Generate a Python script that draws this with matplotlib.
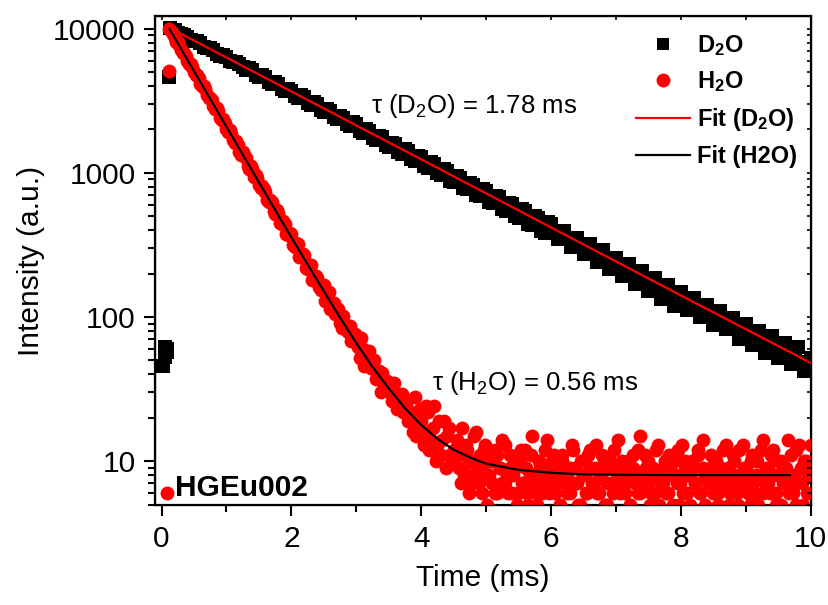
import numpy as np
import matplotlib
matplotlib.use('Agg')
import matplotlib.pyplot as plt
from matplotlib.ticker import MultipleLocator, LogLocator, NullFormatter
from matplotlib.lines import Line2D

plt.rcParams['font.family'] = ['Liberation Sans', 'DejaVu Sans']
plt.rcParams['mathtext.fontset'] = 'custom'
plt.rcParams['mathtext.rm'] = 'Liberation Sans'
plt.rcParams['mathtext.bf'] = 'Liberation Sans:bold'
plt.rcParams['mathtext.default'] = 'regular'

# D2O decay (black squares)
d2o_early_t = [0.03, 0.05, 0.06, 0.08, 0.09, 0.11, 0.13]
d2o_early_y = [46, 53, 62, 60, 57, 4650, 10100]
# sampled every 0.1 ms from 0.2 ms
d2o_y = [9800, 9150, 8820, 8150, 7900, 7300, 7100, 6500, 6380, 5850,
         5720, 5200, 5140, 4640, 4620, 4160, 4140, 3720, 3720, 3320,
         3340, 2960, 3000, 2650, 2700, 2370, 2420, 2120, 2180, 1890,
         1960, 1690, 1760, 1510, 1580, 1350, 1420, 1210, 1280, 1080,
         1150, 960, 1030, 860, 925, 770, 830, 690, 745, 615,
         675, 545, 605, 490, 545, 435, 490, 385, 440, 345,
         395, 305, 355, 272, 320, 240, 290, 215, 258, 192,
         232, 170, 208, 152, 186, 134, 168, 120, 150, 112,
         135, 100, 122, 88, 110, 82, 99, 70, 90, 64,
         80, 56, 74, 52, 66, 47, 62, 42, 52]
# sampled every 0.1 ms from 0.25 ms
d2o_y2 = [9300, 9100, 8300, 8200, 7450, 7350, 6700, 6600, 5950, 5900,
          5380, 5300, 4780, 4760, 4290, 4280, 3840, 3830, 3420, 3450,
          3060, 3090, 2740, 2780, 2440, 2490, 2190, 2240, 1950, 2010,
          1740, 1810, 1550, 1620, 1390, 1460, 1240, 1310, 1110, 1180,
          990, 1060, 880, 950, 790, 850, 705, 770, 630, 690,
          560, 620, 500, 560, 445, 505, 398, 455, 395, 360,
          352, 340, 305, 300, 285, 258, 255, 236, 230, 205,
          206, 195, 172, 178, 160, 150, 150, 132, 133, 120,
          114, 116, 100, 101, 95, 84, 86, 80, 73, 74,
          64, 66, 58, 59, 52, 53, 47, 49]

# H2O decay (red circles)
h2o_early_t = [0.09, 0.11, 0.12]
h2o_early_y = [6, 5100, 10000]
# sampled every 0.05 ms from 0.15 ms
h2o_decay_y = [9600, 8600, 8050, 7150, 6750, 5950, 5650, 4980, 4750, 4150,
               3980, 3480, 3330, 2900, 2800, 2420, 2350, 2010, 1980, 1680,
               1660, 1400, 1390, 1260, 1070, 1060, 960, 820, 810, 740,
               625, 630, 520, 530, 440, 445, 370, 375, 305, 320,
               260, 270, 215, 228, 180, 187, 153, 166, 134, 114,
               126, 108, 91, 102, 81, 87, 68, 67, 52, 60,
               49, 58, 44, 37, 42, 41, 32, 33, 26, 30,
               24, 29, 23, 19, 22, 28, 17, 19, 13, 22,
               14, 24, 13, 11, 19, 15, 11, 12]
# sampled every 0.05 ms from 0.175 ms
h2o_decay_y2 = [9200, 8100, 7700, 6800, 6450, 5700, 5400, 4750, 4520, 3980,
                3800, 3320, 3180, 2770, 2670, 2310, 2230, 1930, 1870, 1610,
                1570, 1340, 1320, 1120, 1110, 935, 925, 780, 775, 650,
                650, 540, 548, 452, 460, 378, 384, 315, 325, 262,
                272, 218, 228, 182, 193, 162, 166, 130, 149, 122,
                105, 113, 84, 90, 79, 68, 76, 62, 71, 46,
                53, 44, 50, 40, 30, 32, 36, 30, 35, 23,
                27, 22, 26, 21, 16, 15, 23, 16, 24, 12,
                17, 10, 19, 14, 9, 17, 10]
# flat tail after 4.5 ms, two interleaved sweeps
h2o_base_y = [14, 9, 17, 8, 12, 10, 7, 15, 9, 11, 6, 13, 8, 10, 7, 12, 6, 9, 14, 7,
              8, 11, 6, 9, 5, 10, 7, 12, 6, 8, 15, 7, 5, 9, 6, 12, 8, 7, 10, 6,
              9, 5, 11, 7, 8, 6, 13, 9, 7, 5, 10, 8, 6, 12, 7, 9, 6, 8, 11, 5,
              7, 10, 6, 9, 14, 7, 8, 6, 10, 5, 9, 7, 12, 6, 8, 11, 7, 5, 9, 6,
              13, 8, 7, 10, 6, 9, 5, 8, 12, 7, 6, 10, 8, 5, 9, 7, 11, 6, 14, 8,
              7, 9, 6, 10, 5, 8, 12, 7, 9, 6, 11, 8, 5, 7, 13, 9, 6, 10, 7, 8,
              5, 12, 6, 9, 7, 11, 8, 6, 10, 5, 9, 7, 14, 8, 6, 12, 7, 9, 5, 10,
              8, 13]
h2o_base_y2 = [11, 7, 9, 13, 6, 10, 8, 16, 7, 9, 12, 5, 8, 10, 6, 11, 9, 7, 13, 6,
               9, 8, 10, 6, 12, 7, 9, 5, 11, 8, 6, 10, 7, 9, 14, 6, 8, 11, 7, 5,
               10, 8, 6, 9, 12, 7, 5, 10, 8, 6, 11, 9, 7, 13, 6, 8, 10, 5, 9, 7,
               12, 8, 6, 10, 7, 9, 5, 11, 8, 6, 15, 7, 9, 10, 6, 8, 12, 5, 7, 9,
               6, 11, 8, 10, 7, 5, 13, 9, 6, 8, 10, 7, 12, 6, 9, 5, 8, 11, 7, 10,
               6, 9, 8, 13, 5, 7, 10, 6, 12, 8, 9, 7, 5, 11, 6, 10, 8, 14, 7, 9,
               6, 12, 5, 8, 10, 7, 9, 6, 11, 8, 5, 13, 7, 10, 6, 9]

# fit curves
fit_d2o_t = [0.15, 2.0, 4.0, 6.0, 8.0, 10.0]
fit_d2o_y = [10000, 3670, 1240, 418, 141, 48]
fit_h2o_t = [0.12, 0.5, 1.0, 1.5, 2.0, 2.5, 2.75, 3.0, 3.25, 3.5, 3.75, 4.0,
             4.25, 4.5, 4.75, 5.0, 5.5, 6.0, 6.5, 7.0, 8.0, 9.68]
fit_h2o_y = [10000, 5080, 2090, 860, 356, 151, 99, 66, 45, 32, 23.3, 17.8,
             14.3, 12.0, 10.6, 9.6, 8.7, 8.3, 8.1, 8.05, 8.0, 8.0]

xticks = [0, 2, 4, 6, 8, 10]
yticks = [10, 100, 1000, 10000]
ytick_labels = ['10', '100', '1000', '10000']

d2o_t = np.concatenate([d2o_early_t,
                        0.2 + 0.1 * np.arange(len(d2o_y)),
                        0.25 + 0.1 * np.arange(len(d2o_y2))])
d2o_all = np.concatenate([d2o_early_y, d2o_y, d2o_y2])
h2o_t = np.concatenate([h2o_early_t,
                        0.15 + 0.05 * np.arange(len(h2o_decay_y)),
                        0.175 + 0.05 * np.arange(len(h2o_decay_y2)),
                        np.linspace(4.55, 10.0, len(h2o_base_y)),
                        np.linspace(4.57, 9.98, len(h2o_base_y2))])
h2o_all = np.concatenate([h2o_early_y, h2o_decay_y, h2o_decay_y2, h2o_base_y, h2o_base_y2])

fig = plt.figure(figsize=(8.29, 6.05), dpi=100)
ax = fig.add_axes([0.187, 0.165, 0.791, 0.809])

ax.plot(d2o_t, d2o_all, 's', color='black', markersize=9.5, markeredgewidth=0, zorder=2)
ax.plot(h2o_t, h2o_all, 'o', color='red', markersize=10, markeredgewidth=0, zorder=3)
ax.plot(fit_d2o_t, fit_d2o_y, '-', color='red', linewidth=1.6, zorder=4)
ax.plot(fit_h2o_t, fit_h2o_y, '-', color='black', linewidth=1.6, zorder=4)

ax.set_yscale('log')
ax.set_xlim(-0.1, 10)
ax.set_ylim(4.95, 12300)
ax.set_xticks(xticks)
ax.xaxis.set_minor_locator(MultipleLocator(1))
ax.set_yticks(yticks, ytick_labels)
ax.yaxis.set_minor_locator(LogLocator(base=10, subs=np.arange(2, 10)))
ax.yaxis.set_minor_formatter(NullFormatter())
ax.tick_params(which='both', direction='out', width=1.5, labelsize=21.5, pad=6)
ax.tick_params(which='major', length=8)
ax.tick_params(which='minor', length=5)
for s in ax.spines.values():
    s.set_linewidth(1.6)

# mirrored inward ticks on top and right
axt = ax.twiny()
axt.set_xlim(ax.get_xlim())
axt.set_xticks(xticks)
axt.xaxis.set_minor_locator(MultipleLocator(1))
axt.tick_params(which='both', direction='in', length=3, width=1.2, labeltop=False)
axr = ax.twinx()
axr.set_yscale('log')
axr.set_ylim(ax.get_ylim())
axr.set_yticks(yticks)
axr.yaxis.set_minor_locator(LogLocator(base=10, subs=np.arange(2, 10)))
axr.yaxis.set_minor_formatter(NullFormatter())
axr.tick_params(which='both', direction='in', length=3, width=1.2, labelright=False)

ax.set_xlabel('Time (ms)', fontsize=21.5, labelpad=8)
ax.set_ylabel('Intensity (a.u.)', fontsize=21.5, labelpad=6)

ax.text(4.81, 2610, r'$\tau$ (D$_2$O) = 1.78 ms', fontsize=18.5, ha='center', va='baseline')
ax.text(5.76, 31, r'$\tau$ (H$_2$O) = 0.56 ms', fontsize=18.5, ha='center', va='baseline')
ax.text(0.2, 5.7, 'HGEu002', fontsize=21.5, fontweight='bold', ha='left', va='baseline')

handles = [
    Line2D([], [], linestyle='none', marker='s', color='black', markersize=8, markeredgewidth=0),
    Line2D([], [], linestyle='none', marker='o', color='red', markersize=10, markeredgewidth=0),
    Line2D([], [], color='red', linewidth=1.6),
    Line2D([], [], color='black', linewidth=1.6),
]
labels = ['D$_2$O', 'H$_2$O', 'Fit (D$_2$O)', 'Fit (H2O)']
ax.legend(handles, labels, loc='upper right', bbox_to_anchor=(0.979, 0.965),
          frameon=False, prop={'weight': 'bold', 'size': 17}, handlelength=2.3,
          handletextpad=0.3, labelspacing=0.5, borderpad=0, borderaxespad=0)

fig.savefig('out.png', dpi=100)
